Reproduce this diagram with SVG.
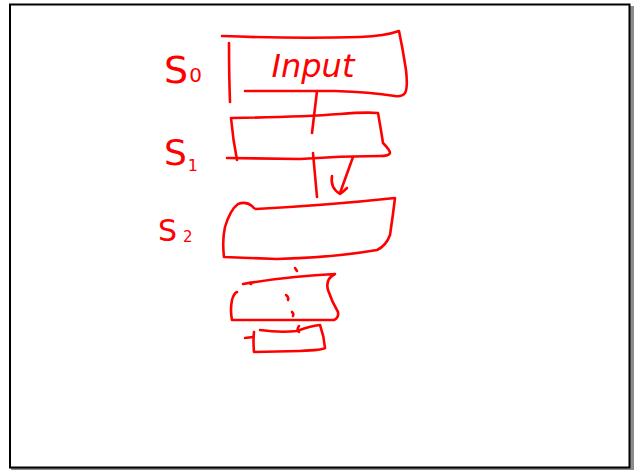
<svg xmlns="http://www.w3.org/2000/svg" width="637" height="470" viewBox="0 0 637 470">
<style>
.ink{fill:none;stroke:#f00;stroke-width:2.6;stroke-linecap:round;stroke-linejoin:round}
.lbl{fill:#f00;font-family:"DejaVu Sans","Liberation Sans",sans-serif}
</style>
<rect x="0" y="0" width="637" height="470" fill="#fff"/>
<rect x="11" y="6" width="623" height="470" fill="#8c8c8c"/>
<rect x="10" y="4.5" width="619.5" height="463" fill="#fff" stroke="#000" stroke-width="2"/>
<g id="label-s0"><text class="lbl" x="164" y="83" font-size="38">S<tspan font-size="20" dx="1" dy="-1">0</tspan></text></g>
<g id="label-s1"><text class="lbl" x="164" y="165" font-size="36">S<tspan font-size="16" dx="1" dy="6">1</tspan></text></g>
<g id="label-s2"><text class="lbl" x="158" y="241" font-size="30">S<tspan font-size="15" dx="6" dy="1">2</tspan></text></g>
<g id="s0">
<path class="ink" d="M222,36 Q300,39 360,37 Q385,36 399,31 Q403,50 406,70 Q408,88 405,93 Q402,97 395,96 Q370,92 335,91 L245,91"/>
<path class="ink" d="M229,43 Q229,75 230,102"/>
<text class="lbl" x="313" y="77" font-size="32" text-anchor="middle" font-style="italic">Input</text>
</g>
<g id="s1">
<path class="ink" d="M232,118 Q300,117 340,114 Q365,112 378,113 Q381,130 383,143 Q390,150 390,153 Q389,156 380,156 Q340,156 300,159 L227,158"/>
<path class="ink" d="M231,118 Q233,140 237,160"/>
</g>
<g id="s2">
<path class="ink" d="M224,257 Q222,240 225,227 Q230,210 238,204 Q246,201 252,206 Q254,209 256,209 Q330,205 395,198 Q393,215 390,235 Q386,246 377,250 Q330,258 277,259 Q250,258 224,257"/>
</g>
<g id="s3">
<path class="ink" d="M243,284 Q290,276 335,274 Q325,279 328,290 Q332,302 338,312 Q339,318 334,320 L232,320 Q230,310 232,300 Q234,293 237,292"/>
<path class="ink" d="M250,283 L251,284"/>
<path class="ink" d="M286,295 Q289,297 288,300"/>
<path class="ink" d="M292,312 Q294,314 293,316"/>
</g>
<g id="s4">
<path class="ink" d="M260,330 Q280,333 297,331 Q310,326 320,325 Q324,336 325,348 Q323,350 300,351 L254,352 Q253,340 254,332"/>
<path class="ink" d="M245,338 L253,337"/>
<path class="ink" d="M299,326 Q296,330 299,332"/>
</g>
<g id="connectors">
<path class="ink" d="M317,91 L312,133"/>
<path class="ink" d="M313,153 L317,197"/>
<path class="ink" d="M353,157 L340,193"/>
<path class="ink" d="M332,176 Q330,188 340,194 Q344,191 347,188"/>
<path class="ink" d="M295,268 L297,271"/>
</g>
</svg>
